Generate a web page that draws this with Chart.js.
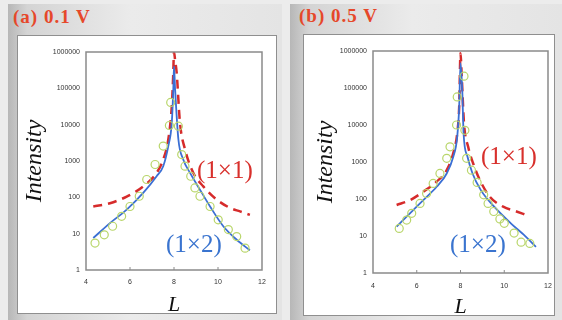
<!DOCTYPE html>
<html>
<head>
<meta charset="utf-8">
<script src="https://cdn.jsdelivr.net/npm/chart.js@4"></script>
<style>
    body { margin: 0; width: 562px; height: 320px; background: #ececec; position: relative; overflow: hidden; }
    .card { position: absolute; top: 4px; height: 316px;
        background: linear-gradient(90deg, #b7b7b7 0%, #d4d4d4 7%, #ebebeb 45%, #e4e4e4 100%); }
    .box { position: absolute; background: #fff; border: 1px solid #8f8f8f; box-sizing: border-box; }
    .title { position: absolute; font: bold 19px "Liberation Serif", serif; color: #e6482a; letter-spacing: 1px; }
    .note { position: absolute; font: 25px "Liberation Serif", serif; white-space: nowrap; }
    .red { color: #d8302c; }
    .blue { color: #3a74cf; }
    canvas { position: absolute; }
</style>
</head>
<body>
<div class="card" style="left:8px; width:274px;"></div>
<div class="card" style="left:290px; width:272px;"></div>
<div class="box" style="left:17px; top:35px; width:260px; height:279px;"></div>
<div class="box" style="left:303px; top:34px; width:252px; height:282px;"></div>
<div class="title" style="left:13px; top:6px;">(a) 0.1 V</div>
<div class="title" style="left:299px; top:5px;">(b) 0.5 V</div>

<canvas id="chartA" width="260" height="285" style="left:17px; top:35px;"></canvas>
<canvas id="chartB" width="259" height="286" style="left:303px; top:34px;"></canvas>

<div class="note red" style="left:197px; top:156px;">(1×1)</div>
<div class="note blue" style="left:166px; top:230px;">(1×2)</div>
<div class="note red" style="left:481px; top:142px;">(1×1)</div>
<div class="note blue" style="left:450px; top:230px;">(1×2)</div>

<script>
// Axis ticks
const xTicks = [4, 6, 8, 10, 12];
const yTicks = [1, 10, 100, 1000, 10000, 100000, 1000000];

// (a) 0.1 V
const aRedL = [4.33, 5.09, 5.85, 6.6, 7.21, 7.51, 7.74, 7.9, 7.96, 8.0, 8.05, 8.12, 8.27, 8.5, 8.88, 9.33, 9.94, 10.55, 11.0, 11.45];
const aRedI = [56, 69, 105, 200, 470, 1100, 3900, 33000, 200000, 1000000, 600000, 275000, 11500, 2100, 470, 200, 87, 51, 41, 33];
const aBlueL = [4.33, 5.09, 5.85, 6.6, 7.21, 7.51, 7.74, 7.9, 7.97, 8.0, 8.05, 8.2, 8.42, 8.73, 9.18, 9.64, 10.24, 10.85, 11.45];
const aBlueI = [7.6, 19.5, 46, 132, 380, 720, 2570, 11500, 100000, 400000, 95000, 3900, 1100, 470, 162, 56, 16, 6.8, 3.5];
const aDotL = [4.41, 4.83, 5.21, 5.62, 6.0, 6.42, 6.76, 7.14, 7.51, 7.79, 7.85, 8.2, 8.35, 8.5, 8.76, 8.95, 9.18, 9.64, 10.01, 10.47, 10.85, 11.23];
const aDotI = [5.5, 9.3, 16, 30, 56, 107, 310, 800, 2570, 9500, 41000, 9100, 1500, 720, 380, 182, 107, 56, 24, 13, 8.3, 4];

// (b) 0.5 V
const bRedL = [5.08, 5.69, 6.3, 6.91, 7.37, 7.67, 7.85, 7.94, 8.0, 8.05, 8.16, 8.35, 8.58, 8.89, 9.34, 9.95, 10.56, 11.02];
const bRedI = [69, 93, 158, 295, 600, 1740, 6000, 31000, 870000, 250000, 11200, 2570, 910, 320, 115, 62, 46, 37];
const bBlueL = [5.08, 5.69, 6.3, 6.91, 7.37, 7.67, 7.85, 7.94, 8.0, 8.08, 8.14, 8.32, 8.55, 8.93, 9.54, 10.3, 10.9, 11.45];
const bBlueI = [18, 41, 93, 214, 490, 1380, 4800, 31000, 470000, 89000, 6000, 1380, 490, 174, 62, 22, 10.7, 5.1];
const bDotL = [5.2, 5.54, 5.77, 6.15, 6.45, 6.75, 7.06, 7.37, 7.52, 7.82, 7.85, 8.16, 8.2, 8.28, 8.5, 8.76, 9.06, 9.26, 9.52, 9.8, 10.0, 10.45, 10.77, 11.17];
const bDotI = [16, 27, 41, 76, 141, 263, 490, 1260, 2570, 10000, 57500, 209000, 7200, 1260, 600, 280, 130, 76, 46, 29, 22, 12, 6.8, 6.3];

function pairs(xs, ys) {
    return xs.map((x, i) => ({ x: x, y: ys[i] }));
}

// plot frame plus small inner ticks on the L axis
const framePlugin = {
    id: 'frame',
    afterDraw(chart) {
        const ctx = chart.ctx;
        const a = chart.chartArea;
        const xs = chart.scales.x;
        ctx.save();
        ctx.strokeStyle = '#8a8a8a';
        ctx.lineWidth = 1.5;
        ctx.strokeRect(a.left, a.top, a.right - a.left, a.bottom - a.top);
        ctx.lineWidth = 1;
        xTicks.slice(1, -1).forEach(v => {
            const px = xs.getPixelForValue(v);
            ctx.beginPath();
            ctx.moveTo(px, a.bottom);
            ctx.lineTo(px, a.bottom - 3);
            ctx.stroke();
        });
        ctx.restore();
    }
};

function makePanel(id, p) {
    const ctx = document.getElementById(id).getContext('2d');
    new Chart(ctx, {
        type: 'scatter',
        data: {
            datasets: [{
                data: pairs(p.dotL, p.dotI),
                showLine: false,
                pointRadius: 4,
                pointBorderWidth: 1.2,
                pointBorderColor: '#b9d66b',
                pointBackgroundColor: 'rgba(0,0,0,0)'
            }, {
                data: pairs(p.blueL, p.blueI),
                showLine: true,
                borderColor: '#3b6fd4',
                borderWidth: 1.8,
                pointRadius: 0,
                cubicInterpolationMode: 'monotone'
            }, {
                data: pairs(p.redL, p.redI),
                showLine: true,
                borderColor: '#d62b2b',
                borderWidth: 2.5,
                borderDash: [9, 6],
                pointRadius: 0,
                cubicInterpolationMode: 'monotone'
            }]
        },
        options: {
            responsive: false,
            animation: false,
            layout: { padding: { top: 17, right: p.padRight, left: 0, bottom: 0 } },
            plugins: { legend: { display: false }, tooltip: { enabled: false } },
            scales: {
                x: {
                    type: 'linear', min: 4, max: 12,
                    afterBuildTicks: s => { s.ticks = xTicks.map(v => ({ value: v })); },
                    afterFit: s => { s.height = p.xHeight; },
                    grid: { display: false, drawTicks: false },
                    border: { display: false },
                    ticks: { padding: p.xPad, color: '#333', font: { size: 7, family: 'Liberation Sans' } },
                    title: {
                        display: true, text: 'L', color: '#111',
                        font: { size: 22, style: 'italic', family: 'Liberation Serif', lineHeight: 1 },
                        padding: { top: 0, bottom: p.lPad }
                    }
                },
                y: {
                    type: 'logarithmic', min: 1, max: 1000000,
                    afterBuildTicks: s => { s.ticks = yTicks.map(v => ({ value: v })); },
                    afterFit: s => { s.width = p.yWidth; },
                    grid: { display: false, drawTicks: false },
                    border: { display: false },
                    ticks: { padding: 6, color: '#333', font: { size: 7, family: 'Liberation Sans' }, callback: v => String(v) },
                    title: {
                        display: true, text: 'Intensity', color: '#111',
                        font: { size: 24, style: 'italic', family: 'Liberation Serif', lineHeight: 1.2 },
                        padding: { top: p.iPad, bottom: 0 }
                    }
                }
            }
        },
        plugins: [framePlugin]
    });
}

window.addEventListener('load', () => {
    makePanel('chartA', {
        redL: aRedL, redI: aRedI, blueL: aBlueL, blueI: aBlueI, dotL: aDotL, dotI: aDotI,
        padRight: 15, xHeight: 50, yWidth: 69, xPad: 8, lPad: 4, iPad: 3
    });
    makePanel('chartB', {
        redL: bRedL, redI: bRedI, blueL: bBlueL, blueI: bBlueI, dotL: bDotL, dotI: bDotI,
        padRight: 14, xHeight: 47, yWidth: 70, xPad: 9, lPad: 2, iPad: 8
    });
});
</script>
</body>
</html>
